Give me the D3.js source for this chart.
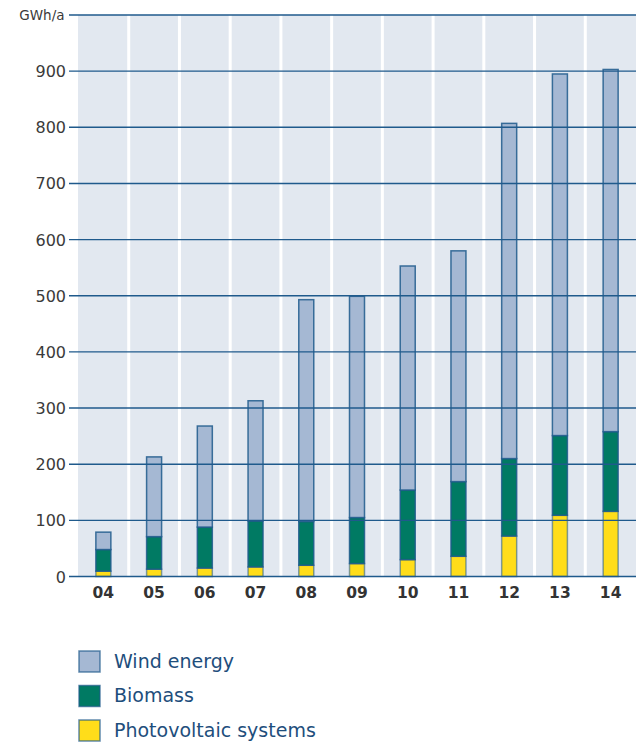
<!DOCTYPE html>
<html><head><meta charset="utf-8">
<script src="https://cdn.jsdelivr.net/npm/d3@7"></script>
<style>body{margin:0;background:#fff}svg{display:block}</style>
</head><body>
<script>
const years = ["04","05","06","07","08","09","10","11","12","13","14"];
const photovoltaic = [9.5,13,15,17,20,23,30,36,72,109,116];
const biomass = [38.5,58,73,82,78,82,124,133,138,142,142];
const wind = [31,142,180,214,395,394,399,411,597,644,645];
const yTicks = [0,100,200,300,400,500,600,700,800,900];
const unitLabel = "GWh/a";
const seriesNames = ["Wind energy","Biomass","Photovoltaic systems"];
const colors = {"Photovoltaic systems":"#ffdd1a","Biomass":"#007a63","Wind energy":"#a5b8d3"};

const FONT="DejaVu Sans, sans-serif";
const W=640,H=742;
const svg=d3.select("body").append("svg").attr("width",W).attr("height",H);
const x0=78,x1=636,yTop=15,yBot=576.5;
const x=d3.scaleBand().domain(years).range([x0,x1]).paddingInner(0).paddingOuter(0);
const y=d3.scaleLinear().domain([0,1000]).range([yBot,yTop]);

// column backgrounds
svg.append("g").selectAll("rect").data(years).join("rect")
  .attr("x",d=>x(d)+(d===years[0]?0:1.5)).attr("width",d=>x.bandwidth()-(d===years[0]?1.5:3)+(d===years[years.length-1]?1.5:0))
  .attr("y",yTop).attr("height",yBot-yTop).attr("fill","#e2e8f0");

// stack
const rows=years.map((yr,i)=>({year:yr,"Photovoltaic systems":photovoltaic[i],"Biomass":biomass[i],"Wind energy":wind[i]}));
const stack=d3.stack().keys(["Photovoltaic systems","Biomass","Wind energy"])(rows);
const bw=15;
const bars=svg.append("g");
stack.forEach(s=>{
  bars.append("g").selectAll("rect").data(s).join("rect")
    .attr("x",d=>x(d.data.year)+x.bandwidth()/2-bw/2)
    .attr("width",bw)
    .attr("y",d=>y(d[1]))
    .attr("height",d=>y(d[0])-y(d[1]))
    .attr("fill",colors[s.key])
    .attr("stroke","#1f5a8c").attr("stroke-opacity",s.key==="Photovoltaic systems"?0.55:0.85).attr("stroke-width",1.5);
});

// gridlines
const grid=svg.append("g");
grid.selectAll("line").data(yTicks.concat([1000])).join("line")
  .attr("x1",69).attr("x2",x1).attr("y1",d=>y(d)).attr("y2",d=>y(d))
  .attr("stroke","#1f5a8c").attr("stroke-width",1.4);

// y labels
svg.append("g").selectAll("text").data(yTicks).join("text")
  .attr("x",66).attr("y",d=>y(d)+6).attr("text-anchor","end")
  .attr("font-family",FONT).attr("font-size",16).attr("fill","#3a3a3a").text(d=>d);
svg.append("text").attr("x",64.5).attr("y",y(1000)+5).attr("text-anchor","end")
  .attr("font-family",FONT).attr("font-size",13.5).attr("fill","#3a3a3a").text(unitLabel);

// x labels
svg.append("g").selectAll("text").data(years).join("text")
  .attr("x",d=>x(d)+x.bandwidth()/2).attr("y",598).attr("text-anchor","middle")
  .attr("font-family",FONT).attr("font-weight","bold").attr("font-size",15.5).attr("fill","#333").text(d=>d);

// legend
const lg=svg.append("g");
seriesNames.forEach((n,i)=>{
  const yy=651+i*34.5;
  lg.append("rect").attr("x",79).attr("y",yy).attr("width",21).attr("height",21)
    .attr("fill",colors[n]).attr("stroke","#1f5a8c").attr("stroke-opacity",0.7).attr("stroke-width",1.5);
  lg.append("text").attr("x",114).attr("y",yy+16.5).attr("font-family",FONT)
    .attr("font-size",19).attr("fill","#1e4e7c").text(n);
});
</script>
</body></html>
